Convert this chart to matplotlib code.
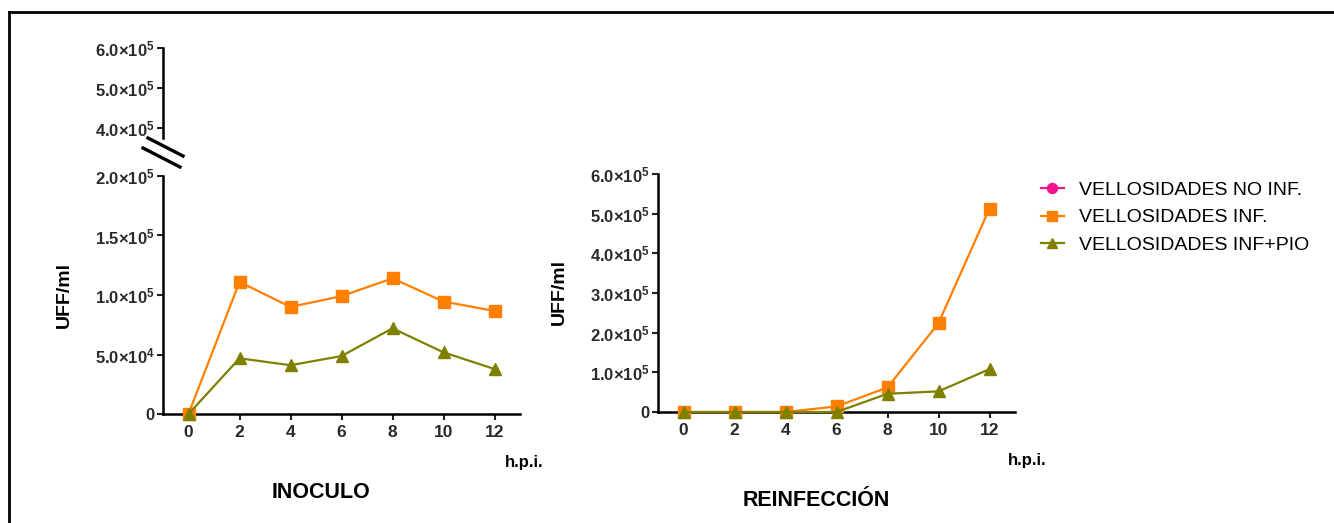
import numpy as np
import matplotlib
matplotlib.use("Agg")
import matplotlib.pyplot as plt
from matplotlib.lines import Line2D

plt.rcParams['font.family'] = ['Liberation Sans', 'DejaVu Sans']
plt.rcParams['mathtext.fontset'] = 'custom'
plt.rcParams['mathtext.rm'] = 'Liberation Sans:bold'
plt.rcParams['mathtext.bf'] = 'Liberation Sans:bold'
plt.rcParams['mathtext.default'] = 'bf'

# ---------------- data ----------------
hours = [0, 2, 4, 6, 8, 10, 12]
series_names = ["VELLOSIDADES NO INF.", "VELLOSIDADES INF.", "VELLOSIDADES INF+PIO"]

inoculo_no_inf = [0, np.nan, np.nan, np.nan, np.nan, np.nan, np.nan]
inoculo_inf = [0, 1.11e5, 0.90e5, 0.99e5, 1.14e5, 0.945e5, 0.866e5]
inoculo_pio = [0, 0.468e5, 0.41e5, 0.487e5, 0.72e5, 0.518e5, 0.378e5]

reinf_no_inf = [0, np.nan, np.nan, np.nan, np.nan, np.nan, np.nan]
reinf_inf = [0, 0, 0, 0.14e5, 0.62e5, 2.24e5, 5.13e5]
reinf_pio = [0, 0, 0, 0, 0.46e5, 0.52e5, 1.08e5]

left_low_ticks = [0, 5e4, 1e5, 1.5e5, 2e5]
left_low_labels = ["0", "5.0×10$^{4}$", "1.0×10$^{5}$", "1.5×10$^{5}$", "2.0×10$^{5}$"]
left_high_ticks = [4e5, 5e5, 6e5]
left_high_labels = ["4.0×10$^{5}$", "5.0×10$^{5}$", "6.0×10$^{5}$"]
right_ticks = [0, 1e5, 2e5, 3e5, 4e5, 5e5, 6e5]
right_labels = ["0", "1.0×10$^{5}$", "2.0×10$^{5}$", "3.0×10$^{5}$",
                "4.0×10$^{5}$", "5.0×10$^{5}$", "6.0×10$^{5}$"]

colors = ["#F0148C", "#FF8000", "#808000"]
markers = ["o", "s", "^"]

W, H = 1334, 523
fig = plt.figure(figsize=(W / 100, H / 100), dpi=100)


def fr(x0, y_top, x1, y_bot):
    return [x0 / W, 1 - y_bot / H, (x1 - x0) / W, (y_bot - y_top) / H]


tick_kw = dict(width=1.5, length=4, colors="#222222", labelcolor="#2a2a2a")


def style_axis(ax):
    for s in ["top", "right"]:
        ax.spines[s].set_visible(False)
    for s in ["left", "bottom"]:
        ax.spines[s].set_linewidth(1.8)
    ax.tick_params(axis="both", **tick_kw)
    ax.tick_params(axis="y", labelsize=12, pad=2)
    ax.tick_params(axis="x", labelsize=12.5, pad=4)
    for lab in ax.get_xticklabels() + ax.get_yticklabels():
        lab.set_fontweight("bold")


def plot_series(ax, data):
    for vals, c, m in zip(data, colors, markers):
        ax.plot(hours, vals, color=c, marker=m, markersize=8, linewidth=1.6,
                clip_on=False, zorder=3)


# ---- left chart (broken axis) ----
axL = fig.add_axes(fr(163, 176, 520, 414))
plot_series(axL, [inoculo_no_inf, inoculo_inf, inoculo_pio])
axL.set_xlim(-1, 13)
axL.set_ylim(0, 2.0e5)
axL.set_xticks(hours)
axL.set_yticks(left_low_ticks)
axL.set_yticklabels(left_low_labels)
style_axis(axL)
axL.set_ylabel("UFF/ml", fontsize=14, fontweight="bold")
axL.yaxis.set_label_coords((73 - 163) / 357, (414 - 295) / 238)

axLt = fig.add_axes(fr(163, 48, 520, 138))
axLt.set_xlim(-1, 13)
axLt.set_ylim(3.75e5, 6.0e5)
axLt.set_yticks(left_high_ticks)
axLt.set_yticklabels(left_high_labels)
style_axis(axLt)
axLt.spines["bottom"].set_visible(False)
axLt.set_xticks([])
axLt.patch.set_visible(False)

# break marks
for (x0, y0, x1, y1) in [(148, 138, 183, 156), (143, 148, 180, 167)]:
    fig.add_artist(Line2D([x0 / W, x1 / W], [1 - y0 / H, 1 - y1 / H],
                          transform=fig.transFigure, color="black", linewidth=2.4))

# ---- right chart ----
axR = fig.add_axes(fr(658, 174, 1015, 412))
lines = []
for vals, c, m, name in zip([reinf_no_inf, reinf_inf, reinf_pio], colors, markers, series_names):
    ln, = axR.plot(hours, vals, color=c, marker=m, markersize=8, linewidth=1.6,
                   clip_on=False, zorder=3, label=name)
    lines.append(ln)
axR.set_xlim(-1, 13)
axR.set_ylim(0, 6.0e5)
axR.set_xticks(hours)
axR.set_yticks(right_ticks)
axR.set_yticklabels(right_labels)
style_axis(axR)
axR.set_ylabel("UFF/ml", fontsize=14, fontweight="bold")
axR.yaxis.set_label_coords((568 - 658) / 357, (412 - 292) / 238)

# legend
fig.legend(handles=lines, loc="upper left", bbox_to_anchor=(1023 / W, 1 - 164 / H),
           frameon=False, fontsize=14, handlelength=1.2, handletextpad=0.8,
           labelspacing=0.5, markerscale=0.9)

# axis unit labels and titles
fig.text(505 / W, 1 - 462 / H, "h.p.i.", fontsize=12, fontweight="bold", ha="left", va="center")
fig.text(1008 / W, 1 - 460 / H, "h.p.i.", fontsize=12, fontweight="bold", ha="left", va="center")
fig.text(321 / W, 1 - 493 / H, "INOCULO", fontsize=15.5, fontweight="bold", ha="center", va="center")
fig.text(816 / W, 1 - 501 / H, "REINFECCIÓN", fontsize=15.5, fontweight="bold", ha="center", va="center")

# outer frame
fig.add_artist(Line2D([9 / W, 9 / W], [0, 1 - 12 / H], transform=fig.transFigure, color="black", linewidth=2))
fig.add_artist(Line2D([9 / W, 1], [1 - 12 / H, 1 - 12 / H], transform=fig.transFigure, color="black", linewidth=2))

fig.savefig("out.png", dpi=100)
